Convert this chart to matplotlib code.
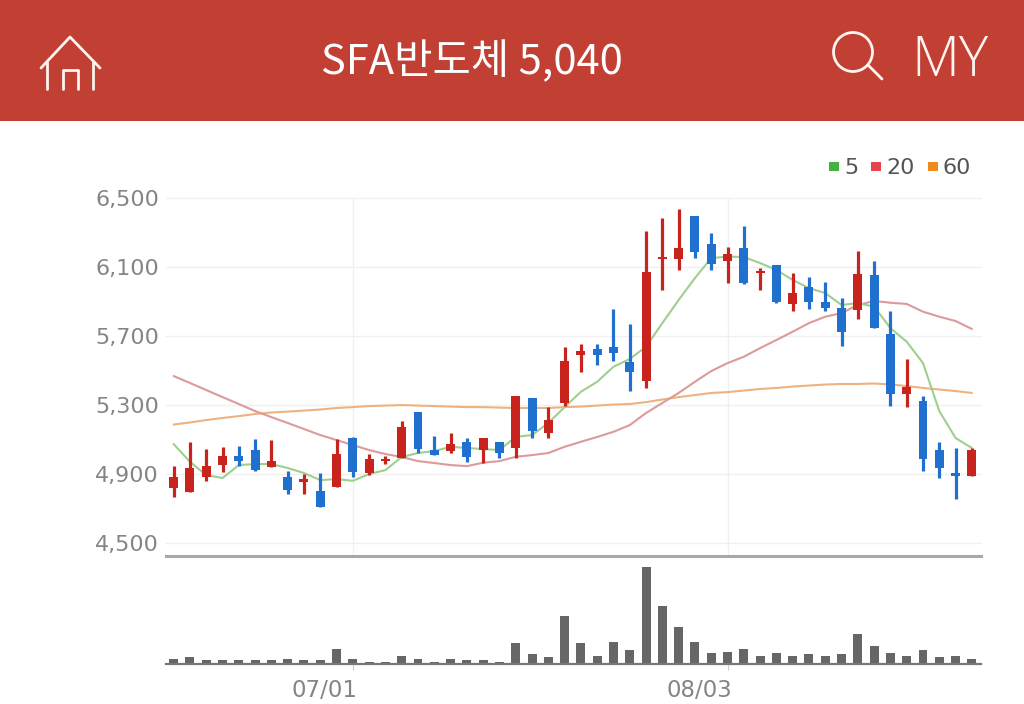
import matplotlib
matplotlib.use("Agg")
import matplotlib.pyplot as plt
from matplotlib.patches import Rectangle, Circle
from matplotlib.transforms import ScaledTranslation

W, H = 1024, 704
RED = "#c8231d"
BLUE = "#2070d0"
HEAD = "#c13f33"

opens  = [4819,4797,4884,4952,5004,5039,4942,4884,4855,4803,4825,5109,4908,4975,4995,5261,5039,5033,5086,5039,
          5087,5052,5341,5138,5312,5590,5625,5638,5549,5441,6148,6148,6396,6233,6137,6212,6065,6112,5884,5986,
          5897,5862,5851,6054,5712,5364,5323,5039,4906,4888]
closes = [4884,4937,4946,5004,4975,4923,4975,4807,4871,4710,5016,4913,4987,4989,5174,5043,5010,5074,4999,5109,
          5022,5354,5149,5213,5555,5615,5590,5601,5493,6073,6152,6212,6187,6117,6175,6007,6079,5899,5951,5899,
          5864,5723,6059,5748,5364,5404,4987,4937,4888,5040]
highs  = [4946,5087,5045,5057,5064,5103,5097,4919,4900,4906,5103,5115,5016,5004,5207,5261,5122,5139,5109,5109,
          5087,5354,5341,5290,5638,5654,5654,5857,5770,6310,6386,6436,6396,6297,6218,6338,6096,6112,6065,6044,
          6013,5920,6195,6135,5845,5568,5352,5087,5051,5051]
lows   = [4767,4796,4861,4912,4946,4919,4942,4784,4784,4710,4825,4884,4894,4958,4995,5022,5010,5022,4971,4964,
          4995,4993,5110,5109,5294,5491,5532,5557,5383,5400,5967,6083,6152,6083,6009,6001,5967,5893,5845,5857,
          5845,5642,5799,5746,5296,5288,4919,4879,4755,4888]
ma5    = [5074,4971,4894,4877,4952,4958,4958,4935,4906,4865,4871,4861,4900,4923,4999,5022,5033,5058,5051,5045,
          5039,5116,5126,5196,5288,5377,5435,5522,5567,5638,5775,5909,6036,6152,6160,6158,6123,6083,6025,5978,
          5949,5880,5891,5870,5746,5667,5543,5265,5109,5051]
ma20   = [5468,5428,5387,5346,5306,5265,5230,5196,5161,5126,5097,5068,5039,5016,4999,4975,4964,4952,4946,4966,
          4975,5000,5010,5022,5058,5087,5115,5145,5184,5254,5312,5370,5435,5497,5543,5580,5630,5677,5725,5775,
          5812,5833,5880,5903,5893,5886,5841,5812,5787,5741]
ma60   = [5187,5199,5213,5225,5236,5248,5257,5262,5268,5274,5283,5288,5294,5297,5300,5297,5294,5291,5288,5288,
          5285,5283,5283,5283,5288,5291,5297,5303,5306,5317,5332,5346,5358,5370,5375,5384,5393,5399,5407,5413,
          5419,5422,5422,5425,5419,5410,5399,5390,5381,5370]
volumes = [15,20,12,11,12,11,11,16,11,11,46,16,7,7,24,16,7,16,12,11,7,63,29,20,145,63,25,67,42,292,
           175,111,67,33,37,46,24,33,24,29,24,29,89,55,33,24,42,20,24,16]
price_ticks = [4500,4900,5300,5700,6100,6500]
date_labels = ["07/01","08/03"]
date_index = [11,34]
legend_labels = ["5","20","60"]
title = "SFA반도체 5,040"

plt.rcParams["font.family"] = ["Noto Sans CJK KR", "DejaVu Sans"]
fig = plt.figure(figsize=(W/100, H/100), dpi=100, facecolor="white")

def axpx(l, t, r, b, **kw):
    return fig.add_axes([l/W, 1-b/H, (r-l)/W, (b-t)/H], **kw)

# overlay in pixel units for the app header
bg = axpx(0, 0, W, H)
bg.set_xlim(0, W); bg.set_ylim(H, 0); bg.axis("off")
bg.add_patch(Rectangle((0, 0), W, 120.5, color=HEAD, lw=0))
bg.text(472, 74, title, color="white", fontsize=30, ha="center", va="baseline",
        family=["Noto Sans CJK KR", "DejaVu Sans"], fontweight="medium")
ic = dict(color="#fff4ef", lw=2, solid_capstyle="round", solid_joinstyle="round")
bg.plot([41, 70, 100], [68, 37, 68], **ic)
bg.plot([47, 47], [62, 89], **ic)
bg.plot([93, 93], [61, 89], **ic)
bg.plot([63, 63, 78, 78], [89, 70, 70, 89], **ic)
bg.add_patch(Circle((853, 52), 19.5, fill=False, ec="#fff4ef", lw=2))
bg.plot([868, 882], [65, 79], **ic)
bg.text(950, 76, "MY", color="#fff4ef", fontsize=40, ha="center", va="baseline",
        family="Open Sans", fontweight="light")

# price panel
ax = axpx(166, 198, 981, 555.5)
ax.patch.set_alpha(0)
ax.set_xlim(-0.47, 49.56)
ax.set_ylim(4428, 6500)
for s in ("top", "left", "right"):
    ax.spines[s].set_visible(False)
ax.spines["bottom"].set_color("#a8a8a8")
ax.spines["bottom"].set_linewidth(2.2)
ax.set_yticks(price_ticks)
ax.set_yticklabels([f"{v:,}" for v in price_ticks], color="#858585", fontsize=16,
                   family="DejaVu Sans")
ax.tick_params(axis="y", length=0, pad=5)
ax.set_xticks(date_index)
ax.tick_params(axis="x", length=0, labelbottom=False)
ax.grid(True, axis="both", color="#f0f0f0", lw=1, clip_on=False)
ax.set_axisbelow(True)

xs = list(range(len(opens)))
ax.plot(xs, ma60, color="#eeb27f", lw=1.5, zorder=2, solid_capstyle="round")
ax.plot(xs, ma20, color="#dd9a9a", lw=1.5, zorder=2, solid_capstyle="round")
ax.plot(xs, ma5, color="#9fcf8f", lw=1.5, zorder=2, solid_capstyle="round")
for i, (o, c, h, l) in enumerate(zip(opens, closes, highs, lows)):
    col = RED if c >= o else BLUE
    ax.vlines(i, l, h, color=col, lw=2.3, zorder=3)
    ax.bar(i, max(abs(c-o), 8), bottom=min(o, c), width=0.55, color=col, zorder=3, lw=0)

# volume panel
vx = axpx(166, 560, 981, 664)
vx.patch.set_alpha(0)
vx.set_xlim(-0.47, 49.56)
vx.set_ylim(0, 312)
for s in ("top", "left", "right"):
    vx.spines[s].set_visible(False)
vx.spines["bottom"].set_color("#777777")
vx.spines["bottom"].set_linewidth(1.6)
vx.bar(xs, volumes, width=0.55, color="#666666", lw=0)
vx.set_yticks([])
vx.set_xticks(date_index)
vx.set_xticklabels(date_labels, color="#858585", fontsize=16.5, family="DejaVu Sans", ha="right")
vx.tick_params(axis="x", length=4.5, color="#cfcfcf", pad=6)
shift = ScaledTranslation(5/100, 0, fig.dpi_scale_trans)
for lab in vx.get_xticklabels():
    lab.set_transform(lab.get_transform() + shift)

# legend
sq_x = [829, 871, 928]
tx = [844, 886, 943]
cols = ["#44b23f", "#e2454f", "#ef8a1f"]
for x0, t, c, lab in zip(sq_x, tx, cols, legend_labels):
    bg.add_patch(Rectangle((x0, 161.5), 10, 9.5, color=c, lw=0))
    bg.text(t, 174, lab, color="#555555", fontsize=16, ha="left", va="baseline",
            family="DejaVu Sans")

fig.savefig("out.png", dpi=100, facecolor="white")
